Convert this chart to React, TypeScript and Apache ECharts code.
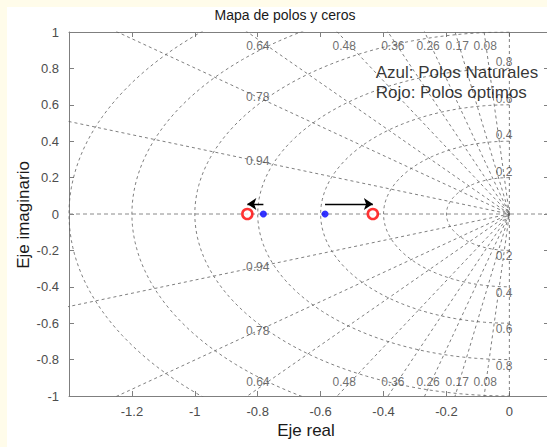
import React, { useEffect, useRef } from "react";
import * as echarts from "echarts";

// ---- data ----
const naturalPoles: number[] = [-0.782, -0.586];
const optimalPoles: number[] = [-0.833, -0.434];
const zetaValues: number[] = [0.08, 0.17, 0.26, 0.36, 0.48, 0.64, 0.78, 0.94];
const wnValues: number[] = [0.2, 0.4, 0.6, 0.8, 1.0, 1.2, 1.4];
const legendLines: string[] = ["Azul: Polos Naturales", "Rojo: Polos óptimos"];
const titleText = "Mapa de polos y ceros";
const xLabel = "Eje real";
const yLabel = "Eje imaginario";

const X_MIN = -1.4;
const X_MAX = 0.126;
const Y_MIN = -1;
const Y_MAX = 1;

const FONT = "'Liberation Sans', Arial, Helvetica, sans-serif";
const GRID_COLOR = "#5e5e5e";

export default function App() {
  const ref = useRef<HTMLDivElement>(null);

  useEffect(() => {
    if (!ref.current) return;
    const chart = echarts.init(ref.current, undefined, { renderer: "svg" });

    const series: any[] = [];

    // real and imaginary axes (dashed)
    series.push({
      type: "line",
      data: [[X_MIN, 0], [X_MAX, 0]],
      symbol: "none",
      lineStyle: { color: "#8a8a8a", width: 1, type: [4, 3] },
      z: 1,
    });
    series.push({
      type: "line",
      data: [[0, Y_MIN], [0, Y_MAX]],
      symbol: "none",
      lineStyle: { color: GRID_COLOR, width: 0.8, type: [3, 3] },
      z: 1,
    });

    // damping lines
    const R = 3;
    zetaValues.forEach((z) => {
      const s = Math.sqrt(1 - z * z);
      series.push({
        type: "line",
        data: [[-z * R, s * R], [0, 0], [-z * R, -s * R]],
        symbol: "none",
        clip: true,
        lineStyle: { color: GRID_COLOR, width: 0.8, type: [3, 3] },
        z: 1,
      });
    });

    // natural frequency circles
    wnValues.forEach((w) => {
      const pts: number[][] = [];
      for (let a = 90; a <= 270; a += 1.5) {
        const t = (a * Math.PI) / 180;
        pts.push([w * Math.cos(t), w * Math.sin(t)]);
      }
      series.push({
        type: "line",
        data: pts,
        symbol: "none",
        clip: true,
        smooth: false,
        lineStyle: { color: GRID_COLOR, width: 0.8, type: [3, 3] },
        z: 1,
      });
    });

    // damping labels
    const zetaLabelData: any[] = [];
    zetaValues.forEach((z) => {
      const s = Math.sqrt(1 - z * z);
      const yTop = 0.96;
      let x = (-z / s) * yTop;
      let y = 0.925;
      if (x < -0.8) {
        x = -0.8;
        y = (0.8 * s) / z;
      }
      zetaLabelData.push({ value: [x, y], name: String(z) });
      zetaLabelData.push({ value: [x, -y], name: String(z) });
    });
    series.push({
      type: "scatter",
      data: zetaLabelData,
      symbolSize: 0,
      silent: true,
      clip: false,
      label: {
        show: true,
        position: [0, 0],
        align: "center",
        verticalAlign: "middle",
        formatter: (p: any) => p.name,
        color: "#4a4a4a",
        fontSize: 12,
        fontFamily: FONT,
      },
      z: 3,
    });

    // wn labels
    const wnLabelsPos: any[] = [];
    const wnLabelsNeg: any[] = [];
    wnValues
      .filter((w) => w < Y_MAX - 0.05)
      .forEach((w) => {
        wnLabelsPos.push({ value: [0, w], name: String(w) });
        wnLabelsNeg.push({ value: [0, -w], name: String(w) });
      });
    const wnLabelSeries = (data: any[], va: string) => ({
      type: "scatter",
      data,
      symbolSize: 0,
      silent: true,
      clip: false,
      label: {
        show: true,
        position: [0, 0],
        offset: [3, 0],
        align: "right",
        verticalAlign: va,
        formatter: (p: any) => p.name,
        color: "#4a4a4a",
        fontSize: 12,
        fontFamily: FONT,
        padding: [0, 0, 0, 0],
      },
      z: 3,
    });
    series.push(wnLabelSeries(wnLabelsPos, "bottom"));
    series.push(wnLabelSeries(wnLabelsNeg, "top"));

    // arrows from natural to optimal poles
    const arrowY = 0.055;
    series.push({
      type: "lines",
      coordinateSystem: "cartesian2d",
      symbol: ["none", "arrow"],
      symbolSize: 9,
      silent: true,
      lineStyle: { color: "#000", width: 1.3, opacity: 1 },
      data: naturalPoles.map((n, i) => ({
        coords: [
          [n, arrowY],
          [optimalPoles[i], arrowY],
        ],
      })),
      z: 4,
    });

    // natural poles (blue dots)
    series.push({
      type: "scatter",
      data: naturalPoles.map((x) => [x, 0]),
      symbol: "circle",
      symbolSize: 7,
      itemStyle: { color: "#0000ff" },
      z: 5,
    });
    // optimal poles (red rings)
    series.push({
      type: "scatter",
      data: optimalPoles.map((x) => [x, 0]),
      symbol: "circle",
      symbolSize: 10,
      itemStyle: { color: "#ffffff", borderColor: "#ff0000", borderWidth: 2.6 },
      z: 5,
    });

    // legend-like text
    series.push({
      type: "scatter",
      data: [
        { value: [-0.425, 0.78], name: legendLines[0] },
        { value: [-0.425, 0.665], name: legendLines[1] },
      ],
      symbolSize: 0,
      silent: true,
      clip: false,
      label: {
        show: true,
        position: [0, 0],
        align: "left",
        verticalAlign: "middle",
        formatter: (p: any) => p.name,
        color: "#000",
        fontSize: 17,
        fontFamily: FONT,
      },
      z: 6,
    });

    const axisCommon = {
      type: "value",
      axisLine: { show: true, onZero: false, lineStyle: { color: "#7f7f7f", width: 1 } },
      axisTick: { show: true, inside: true, length: 5, lineStyle: { color: "#7f7f7f" } },
      splitLine: { show: false },
    };

    const option: any = {
      animation: false,
      backgroundColor: "transparent",
      grid: { left: 69, right: 0, top: 32, bottom: 51 },
      xAxis: [
        {
          ...axisCommon,
          position: "bottom",
          min: X_MIN,
          max: X_MAX,
          interval: 0.2,
          axisLabel: {
            color: "#4d4d4d",
            fontSize: 13,
            fontFamily: FONT,
            margin: 9,
            showMinLabel: false,
            formatter: (v: number) => {
              const r = Math.round(v * 10) / 10;
              if (r < -1.35 || r > 0.05) return "";
              return String(r);
            },
          },
        },
        {
          ...axisCommon,
          position: "top",
          min: X_MIN,
          max: X_MAX,
          interval: 0.2,
          axisLabel: { show: false },
        },
      ],
      yAxis: [
        {
          ...axisCommon,
          position: "left",
          min: Y_MIN,
          max: Y_MAX,
          interval: 0.2,
          axisLabel: {
            color: "#4d4d4d",
            fontSize: 13,
            fontFamily: FONT,
            margin: 10,
            formatter: (v: number) => String(Math.round(v * 10) / 10),
          },
        },
        {
          ...axisCommon,
          position: "right",
          min: Y_MIN,
          max: Y_MAX,
          interval: 0.2,
          axisLabel: { show: false },
        },
      ],
      graphic: [
        {
          type: "text",
          x: 285,
          y: 15,
          style: {
            text: titleText,
            fill: "#1a1a1a",
            font: `14px ${FONT}`,
            textAlign: "center",
            textVerticalAlign: "middle",
          },
        },
        {
          type: "text",
          x: 306,
          y: 430,
          style: {
            text: xLabel,
            fill: "#1a1a1a",
            font: `17px ${FONT}`,
            textAlign: "center",
            textVerticalAlign: "middle",
          },
        },
        {
          type: "text",
          x: 23,
          y: 215,
          rotation: Math.PI / 2,
          style: {
            text: yLabel,
            fill: "#1a1a1a",
            font: `17px ${FONT}`,
            textAlign: "center",
            textVerticalAlign: "middle",
          },
        },
      ],
      series,
    };

    chart.setOption(option);
    return () => chart.dispose();
  }, []);

  return (
    <div
      style={{
        position: "fixed",
        left: 0,
        top: 0,
        width: 547,
        height: 447,
        background: "#fffcea",
        overflow: "hidden",
      }}
    >
      <div
        style={{
          position: "absolute",
          left: 7,
          top: 7,
          right: 0,
          bottom: 0,
          background: "#ffffff",
        }}
      />
      <div
        ref={ref}
        style={{ position: "absolute", left: 0, top: 0, width: 552, height: 447 }}
      />
    </div>
  );
}
